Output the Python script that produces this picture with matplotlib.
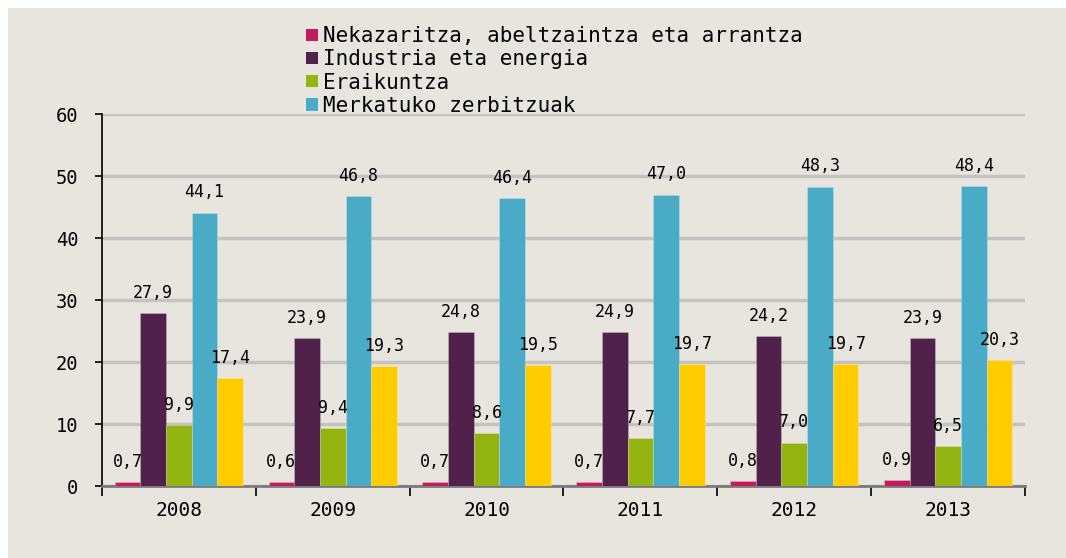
import numpy as np
import matplotlib
matplotlib.use("Agg")
import matplotlib.pyplot as plt
from matplotlib.patches import Patch, Rectangle

# Data
years = ["2008", "2009", "2010", "2011", "2012", "2013"]
series_names = [
    "Nekazaritza, abeltzaintza eta arrantza",
    "Industria eta energia",
    "Eraikuntza",
    "Merkatuko zerbitzuak",
    None,  # fifth series, not shown in the legend
]
nekazaritza = [0.7, 0.6, 0.7, 0.7, 0.8, 0.9]
industria = [27.9, 23.9, 24.8, 24.9, 24.2, 23.9]
eraikuntza = [9.9, 9.4, 8.6, 7.7, 7.0, 6.5]
merkatuko = [44.1, 46.8, 46.4, 47.0, 48.3, 48.4]
beste_zerbitzuak = [17.4, 19.3, 19.5, 19.7, 19.7, 20.3]
y_ticks = [0, 10, 20, 30, 40, 50, 60]

colors = ["#c41c5b", "#50214a", "#94b412", "#4aabc6", "#ffcc00"]
bg = "#e8e5df"
font = "DejaVu Sans Mono"

fig = plt.figure(figsize=(10.66, 5.58), dpi=100)
fig.patch.set_facecolor("white")
# beige panel (white strip on top and left)
fig.patches.append(Rectangle((8 / 1066, -0.01), 1.01, 1.01 - 8 / 558, transform=fig.transFigure,
                             facecolor=bg, edgecolor="none", zorder=-5))

ax = fig.add_axes([102 / 1066, 1 - 486 / 558, 923 / 1066, 372 / 558])
ax.set_facecolor(bg)

all_series = [nekazaritza, industria, eraikuntza, merkatuko, beste_zerbitzuak]
x = np.arange(len(years))
width = 0.167
offsets = (np.arange(len(all_series)) - 2) * width

for i, vals in enumerate(all_series):
    bars = ax.bar(x + offsets[i], vals, width, color=colors[i], zorder=3,
                  edgecolor="#ffffff40", linewidth=0.6)
    for b, v in zip(bars, vals):
        ax.annotate(f"{v:.1f}".replace(".", ","),
                    (b.get_x() + b.get_width() / 2, v),
                    xytext=(0, 8), textcoords="offset points",
                    ha="center", va="bottom", fontsize=12, family=font, zorder=4)

ax.set_xlim(-0.5, len(years) - 0.5)
ax.set_ylim(0, 60)
ax.set_yticks(y_ticks)
ax.set_yticklabels([str(t) for t in y_ticks], family=font, fontsize=13.5)
ax.yaxis.grid(True, color="#c4c3c0", linewidth=2.5, zorder=0)
ax.set_axisbelow(True)

# x ticks at group boundaries, labels at group centres
ax.set_xticks(np.arange(len(years) + 1) - 0.5)
ax.set_xticklabels([])
ax.set_xticks(x, minor=True)
ax.set_xticklabels(years, minor=True, family=font, fontsize=14)
ax.tick_params(axis="x", which="major", length=7, width=1.2, color="black", direction="out")
ax.tick_params(axis="x", which="minor", length=0, pad=11)
ax.tick_params(axis="y", length=5, width=1.2, direction="out", pad=12)

for side in ["top", "right"]:
    ax.spines[side].set_visible(False)
ax.spines["left"].set_color("black")
ax.spines["left"].set_linewidth(1.2)
ax.spines["bottom"].set_color("#7a7a7a")
ax.spines["bottom"].set_linewidth(2)

handles = [Patch(facecolor=colors[i], edgecolor="none", label=series_names[i])
           for i in range(4)]
leg = fig.legend(handles=handles, loc="upper left",
                 bbox_to_anchor=(298 / 1066, 1 - 18 / 558), frameon=False,
                 prop={"family": font, "size": 15}, handlelength=0.55, handleheight=0.55,
                 handletextpad=0.25, labelspacing=0.15, borderaxespad=0)

fig.savefig("out.png", dpi=100, facecolor=fig.get_facecolor())
